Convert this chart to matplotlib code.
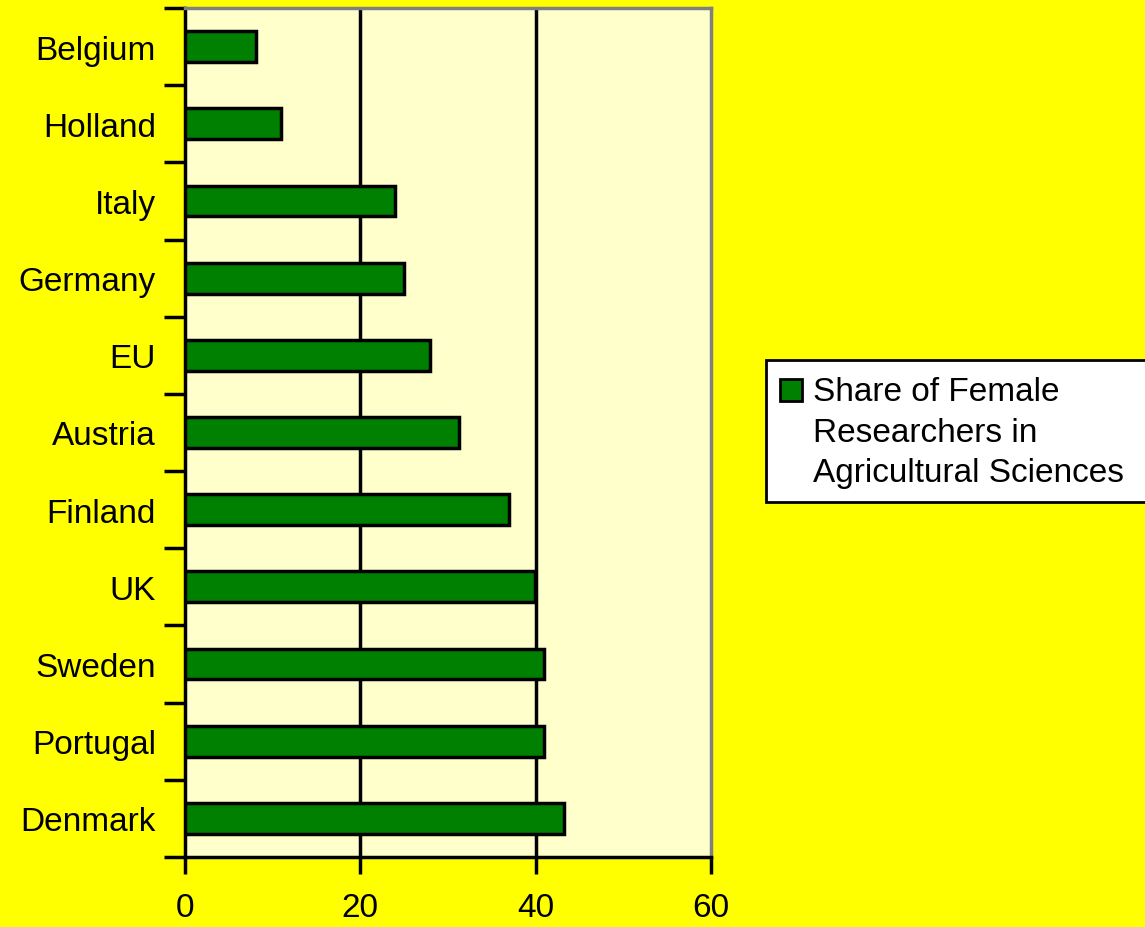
import matplotlib
matplotlib.use("Agg")
import matplotlib.pyplot as plt
from matplotlib.patches import Rectangle

countries = ["Belgium", "Holland", "Italy", "Germany", "EU", "Austria",
             "Finland", "UK", "Sweden", "Portugal", "Denmark"]
values = [8.1, 11.0, 24.0, 25.0, 27.9, 31.2, 37.0, 39.9, 40.9, 40.9, 43.2]
xticks = [0, 20, 40, 60]
legend_label = "Share of Female\nResearchers in\nAgricultural Sciences"

plt.rcParams['font.family'] = ['Liberation Sans', 'DejaVu Sans']

W, H = 1145, 928
FS = 24
fig = plt.figure(figsize=(W / 100, H / 100), dpi=100, facecolor='#FFFF00')
ax = fig.add_axes([185 / W, 1 - 858 / H, (711 - 185) / W, (858 - 9) / H])
ax.set_facecolor('#FFFFCC')

n = len(countries)
ypos = list(range(n))
ax.barh(ypos, values, height=0.4, color='#008000', edgecolor='black',
        linewidth=2.5, zorder=3)
ax.set_ylim(n - 0.5, -0.5)
ax.set_xlim(0, 60)

ax.set_xticks(xticks)
ax.set_xticklabels([str(t) for t in xticks], fontsize=FS)
ax.set_yticks([i - 0.5 for i in range(n + 1)])
ax.set_yticklabels([])
ax.set_yticks(ypos, minor=True)
ax.set_yticklabels(countries, minor=True, fontsize=FS)
ax.tick_params(axis='y', which='minor', length=0, pad=21)
ax.tick_params(axis='y', which='major', length=15, width=2.5, direction='out')
ax.tick_params(axis='x', which='major', length=12, width=2.5, direction='out', pad=13)

for x in xticks[1:-1]:
    ax.axvline(x, color='black', linewidth=2.5, zorder=1)

ax.spines['left'].set_color('black')
ax.spines['left'].set_linewidth(2.5)
ax.spines['bottom'].set_color('black')
ax.spines['bottom'].set_linewidth(2.5)
ax.spines['top'].set_color('#808080')
ax.spines['top'].set_linewidth(2.5)
ax.spines['right'].set_color('#808080')
ax.spines['right'].set_linewidth(2.5)

# Legend drawn manually (box is cut by the right figure edge as in the reference)
fig.patches.append(Rectangle((766 / W, 1 - 503 / H), 400 / W, (503 - 361) / H,
                             transform=fig.transFigure, facecolor='white',
                             edgecolor='black', linewidth=2))
fig.patches.append(Rectangle((780 / W, 1 - 402 / H), 22 / W, 22 / H,
                             transform=fig.transFigure, facecolor='#008000',
                             edgecolor='black', linewidth=2))
fig.text(813 / W, 1 - 377 / H, legend_label, fontsize=FS, va='top', ha='left',
         linespacing=1.4)

fig.savefig("out.png", dpi=100, facecolor=fig.get_facecolor())
